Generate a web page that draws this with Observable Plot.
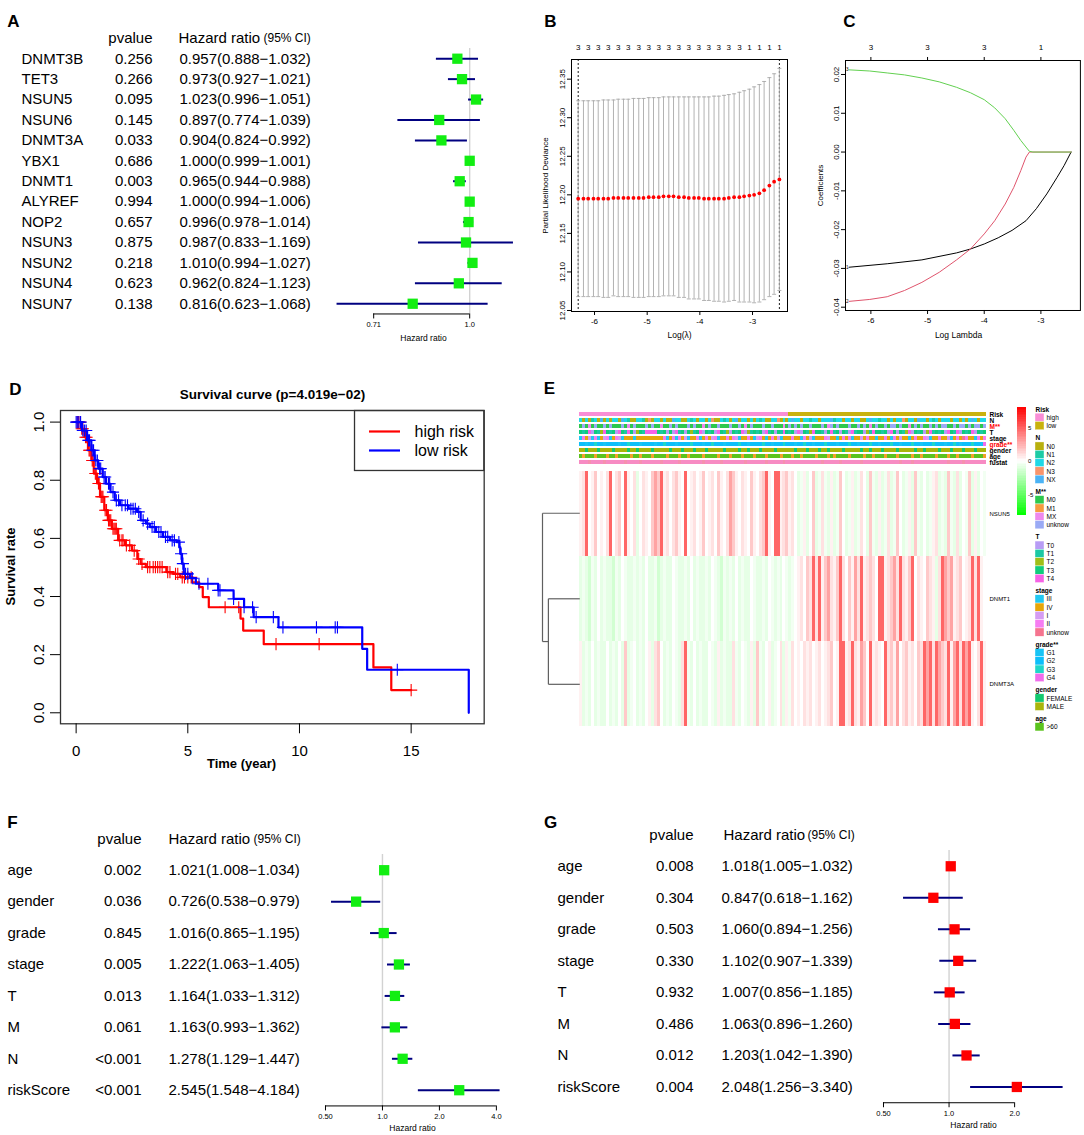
<!DOCTYPE html>
<html>
<head>
<meta charset="utf-8">
<script src="https://cdn.jsdelivr.net/npm/d3@7"></script>
<script src="https://cdn.jsdelivr.net/npm/@observablehq/plot@0.6"></script>
<style>
html,body{margin:0;padding:0;background:#fff;}
#root{position:relative;width:1084px;height:1135px;overflow:hidden;background:#fff;}
#root svg{position:absolute;overflow:visible;background:transparent;max-width:none;}
</style>
</head>
<body>
<div id="root"></div>
<script>
// ====================== DATA ======================
// Panel A – univariate Cox of regulators
const genesA = ["DNMT3B","TET3","NSUN5","NSUN6","DNMT3A","YBX1","DNMT1","ALYREF","NOP2","NSUN3","NSUN2","NSUN4","NSUN7"];
const pvalA  = ["0.256","0.266","0.095","0.145","0.033","0.686","0.003","0.994","0.657","0.875","0.218","0.623","0.138"];
const hrA = [0.957,0.973,1.023,0.897,0.904,1.000,0.965,1.000,0.996,0.987,1.010,0.962,0.816];
const loA = [0.888,0.927,0.996,0.774,0.824,0.999,0.944,0.994,0.978,0.833,0.994,0.824,0.623];
const hiA = [1.032,1.021,1.051,1.039,0.992,1.001,0.988,1.006,1.014,1.169,1.027,1.123,1.068];

// Panels F / G – clinical Cox
const varsFG = ["age","gender","grade","stage","T","M","N","riskScore"];
const pvalF = ["0.002","0.036","0.845","0.005","0.013","0.061","<0.001","<0.001"];
const hrF = [1.021,0.726,1.016,1.222,1.164,1.163,1.278,2.545];
const loF = [1.008,0.538,0.865,1.063,1.033,0.993,1.129,1.548];
const hiF = [1.034,0.979,1.195,1.405,1.312,1.362,1.447,4.184];
const pvalG = ["0.008","0.304","0.503","0.330","0.932","0.486","0.012","0.004"];
const hrG = [1.018,0.847,1.060,1.102,1.007,1.063,1.203,2.048];
const loG = [1.005,0.618,0.894,0.907,0.856,0.896,1.042,1.256];
const hiG = [1.032,1.162,1.256,1.339,1.185,1.260,1.390,3.340];

// Panel B – cross-validation curve
const logLambda = [-6.31,-6.21,-6.12,-6.02,-5.93,-5.83,-5.74,-5.64,-5.55,-5.45,
  -5.36,-5.26,-5.16,-5.07,-4.97,-4.88,-4.78,-4.69,-4.59,-4.50,
  -4.40,-4.30,-4.21,-4.11,-4.02,-3.92,-3.83,-3.73,-3.64,-3.54,
  -3.45,-3.35,-3.25,-3.16,-3.06,-2.97,-2.87,-2.78,-2.68,-2.59,-2.49];
const cvMean = [12.195,12.195,12.195,12.195,12.195,12.195,12.195,12.196,12.196,12.196,
  12.196,12.196,12.196,12.196,12.197,12.197,12.197,12.198,12.198,12.198,
  12.197,12.197,12.196,12.196,12.196,12.195,12.195,12.195,12.195,12.195,
  12.196,12.197,12.197,12.198,12.199,12.200,12.202,12.206,12.212,12.217,12.220];
const cvUpper = [12.322,12.322,12.322,12.322,12.322,12.323,12.323,12.323,12.324,12.324,
  12.324,12.325,12.325,12.325,12.326,12.326,12.326,12.327,12.327,12.327,
  12.327,12.327,12.327,12.327,12.327,12.327,12.327,12.328,12.328,12.329,
  12.330,12.331,12.333,12.335,12.337,12.340,12.343,12.347,12.352,12.357,12.364];
const cvLower = [12.068,12.068,12.068,12.068,12.068,12.067,12.067,12.069,12.068,12.068,
  12.068,12.067,12.067,12.067,12.068,12.068,12.068,12.069,12.069,12.069,
  12.067,12.067,12.065,12.065,12.065,12.063,12.063,12.062,12.062,12.061,
  12.062,12.063,12.061,12.061,12.061,12.060,12.061,12.064,12.068,12.071,12.076];
const nzero = [3,3,3,3,3,3,3,3,3,3, 3,3,3,3,3,3,3,3,3,3, 3,3,3,3,3,3,3,3,3,3, 3,3,3,3,1,1,1,1,1,1,1];
const lambdaLines = [-6.31, -2.49];
const bYTicks = [12.05,12.10,12.15,12.20,12.25,12.30,12.35];
const bXTicks = [-6,-5,-4,-3];

// Panel C – coefficient paths
const coefX1 = [-6.386,-5.712,-5.100,-4.488,-4.243,-3.999,-3.753,-3.509,-3.263,-3.080,-2.896,-2.713,-2.591,-2.467];
const coefY1 = [-0.0297,-0.0288,-0.0278,-0.0260,-0.0250,-0.0237,-0.0221,-0.0202,-0.0177,-0.0146,-0.0108,-0.0065,-0.0035,0];
const coefX2 = [-6.386,-6.019,-5.712,-5.407,-5.100,-4.794,-4.488,-4.243,-3.999,-3.815,-3.630,-3.478,-3.355,-3.263,-3.203,-2.467];
const coefY2 = [-0.0385,-0.0380,-0.0373,-0.0357,-0.0336,-0.0310,-0.0278,-0.0250,-0.0211,-0.0177,-0.0134,-0.0091,-0.0048,-0.0013,0,0];
const coefX3 = [-6.386,-6.019,-5.712,-5.407,-5.100,-4.794,-4.488,-4.243,-3.999,-3.815,-3.630,-3.478,-3.355,-3.263,-3.203,-3.141,-2.467];
const coefY3 = [0.0212,0.0209,0.0204,0.0199,0.0191,0.0181,0.0167,0.0153,0.0135,0.0114,0.0086,0.0056,0.0030,0.0013,0.0002,0,0];
const cXTicks = [-6,-5,-4,-3];
const cTopLabels = ["3","3","3","1"];
const cYTicks = [-0.04,-0.03,-0.02,-0.01,0.00,0.01,0.02];

// Panel D – Kaplan-Meier
const highTime = [0,0.22,0.37,0.53,0.68,0.79,0.94,1.07,1.26,1.42,1.60,1.88,2.19,2.50,2.74,2.89,3.12,4.04,4.35,4.66,5.20,5.51,5.67,5.94,7.36,7.48,8.40,13.31,14.11,15.0];
const highSurv = [1.0,0.977,0.948,0.903,0.868,0.823,0.789,0.743,0.697,0.662,0.633,0.593,0.576,0.558,0.529,0.512,0.501,0.484,0.478,0.466,0.449,0.432,0.398,0.363,0.324,0.283,0.236,0.156,0.078,0.078];
const highCensor = [0.05,0.1,0.18,0.25,0.3,0.42,0.47,0.58,0.62,0.72,0.76,0.86,0.9,1.0,1.03,1.12,1.16,1.2,1.3,1.36,1.45,1.5,1.55,1.65,1.7,1.75,1.8,1.95,2.05,2.1,2.25,2.4,2.6,2.8,2.95,3.2,3.3,3.45,3.55,3.65,3.75,3.85,4.1,4.2,4.45,4.55,4.75,4.85,5.0,5.15,6.67,7.28,8.95,10.88,15.0];
const lowTime = [0,0.26,0.49,0.68,0.83,0.99,1.19,1.34,1.54,1.73,1.96,2.35,2.73,2.89,3.12,3.30,3.58,3.89,4.20,4.51,4.63,4.66,4.74,4.82,5.10,5.36,6.36,7.05,7.52,7.95,9.06,12.81,13.03,17.58];
const lowSurv = [1.0,0.971,0.937,0.903,0.868,0.840,0.811,0.788,0.759,0.731,0.714,0.702,0.691,0.662,0.651,0.639,0.622,0.605,0.593,0.587,0.570,0.547,0.513,0.478,0.463,0.444,0.421,0.392,0.363,0.329,0.294,0.220,0.148,0.0];
const lowCensor = [0.0,0.05,0.12,0.2,0.3,0.38,0.45,0.55,0.6,0.72,0.78,0.88,0.95,1.05,1.1,1.25,1.3,1.45,1.5,1.65,1.8,1.9,2.05,2.2,2.3,2.45,2.55,2.65,2.8,3.0,3.2,3.4,3.5,3.7,3.8,4.0,4.1,4.3,4.4,4.6,4.7,4.78,4.9,5.0,5.2,5.5,5.9,6.36,6.44,7.05,7.52,7.9,8.06,8.83,9.26,10.76,11.6,11.7,14.38];
const riskGroups = ["high risk","low risk"];
const dXTicks = [0,5,10,15];
const dYTicks = [0,0.2,0.4,0.6,0.8,1.0];

// Panel E – heatmap (one character per column, patients ordered by risk score)
const annNames = ["Risk","N","M**","T","stage","grade**","gender","age","fustat"];
const riskRow = "hhhhhhhhhh"+"hhhhhhhhhh"+"hhhhhhhhhh"+"hhhhhhhhhh"+"hhhhhhhhhh"+"hhhhhhhhhh"+"hhhhhhhhhh"+
  "llllllllll"+"llllllllll"+"llllllllll"+"llllllllll"+"llllllllll"+"llllllllll"+"llllll";
const nRow = "2020120X02"+"0220X21002"+"2103022020"+"0X22002120"+"2202300212"+"02X0220202"+"1200223020"+
  "2X22022122"+"0222X12202"+"2022002X22"+"1220202230"+"220X220212"+"0222022020"+"2X2022";
const mRow = "0u0x0u00u0"+"u000u0x0u0"+"00u0u00x00"+"u0u000u0u0"+"0x0u00u000"+"u00u0x0u00"+"0u00u000x0"+
  "u0u0u00u00"+"0u0xu0u000"+"u00u0u0x0u"+"00u0uu0u00"+"x0u0u00u0u"+"0uu00u0uu0"+"u0uu0u";
const tRow = "3134031243"+"1304314302"+"3144443130"+"3041303213"+"4031304312"+"0313402131"+"3041303143"+
  "1304031243"+"3103413031"+"0413302143"+"3130430312"+"4031302413"+"1304314031"+"340313";
const stageRow = "cjoicjcoij"+"cojicoooco"+"oooooooojc"+"ojcjoicooj"+"cojoijcooj"+"ojicoojoci"+"jocojoicoo"+
  "ojoocjoico"+"oojioocojo"+"jcooiojooc"+"oojocjoioo"+"cojoojicoo"+"jooicojouj"+"oocjoj";
const gradeRow = "bbabbcbbab"+"bbbabbcbbb"+"abbbbabbcb"+"bbabbbbcbb"+"babbcbbbab"+"bbbcbbabbb"+"bcbbabbbcb"+
  "bbabbcbbab"+"bbcbbbabbb"+"cbbabbbcbb"+"abbbcbbabb"+"bcbbabbbcb"+"bbabbcbabb"+"bcbbad";
const genderRow = "mmfmmmfmmm"+"mfmmmmfmmf"+"mmmmfmmmmm"+"fmmmfmmmfm"+"mmfmmmmmfm"+"mmmfmmfmmm"+"fmmmmfmmmm"+
  "mmfmmmfmmm"+"fmmfmmmmfm"+"mmmmfmmfmm"+"mfmmmmfmmm"+"mmfmmfmmmm"+"fmmmfmmmfm"+"mmfmmm";
const ageRow = "yoyyyoyyyo"+"yyoyyyyoyy"+"oyyyoyyyyo"+"yyyoyyoyyy"+"yoyyyyoyyy"+"oyyyoyyyoy"+"yyoyyyyoyy"+
  "yoyyoyyyyo"+"yyyoyoyyyy"+"oyyyyoyyoy"+"yyoyyyoyyy"+"yoyyoyyyyo"+"yyyoyyoyyy"+"yoyyyo";
const fustatRow = "aaadaaaada"+"aaaaadaaaa"+"daaaaaadaa"+"aaadaaaaaa"+"adaaaaadaa"+"aaaaadaaaa"+"aadaaaaada"+
  "aaaaaaaaaa"+"adaaaaadaa"+"aaaadaaaaa"+"aaaaaaadaa"+"adaaaaaaaa"+"aaadaaaada"+"aaaaaa";
const exprGenes = ["NSUN5","DNMT1","DNMT3A"];
const nsun5Row = "+pR.+P.+.p"+"R.pP.R+.pg"+".p+.PrPR+p"+".pP+.R.+p."+"+P.+p.P+.p"+"rP+.p+.P+."+"pPR+.RR+pP"+
  "+p.g-+g.Pg"+"-p-g+g-P.g"+"-+g-p.gP-g"+"+g-pg-P.g-"+"+gP-g.g-+p"+"g-gP-gpg.-"+"Pg+g.-";
const dnmt1Row = "g-gG-g.g-g"+"gG-g.-gg-g"+"-g.gg-Gg-g"+"g.-gg-g.g-"+"gg-g.-gG-g"+"-g.g-gg.-g"+"g-g.-g-g.-"+
  "g-.+p.PpRp"+"R+Prp+PRp."+"P+rpR+pPp."+"RR+pPrpRp+"+"PR.p+.Pp+g"+"pRrPr+pP.+"+"pRpR+.";
const dnmt3aRow = "+g-g.g-gg."+"g-g.gPg-.g"+"-g.+gpP.g-"+"g.-gpR-g.g"+"-gg.-g+g-g"+"gp-g.-g+gP"+"-g.+g-.pg+"+
  "-p.+.p+p.+"+"p.+pP.+RR+"+"pRp+rP.R+p"+"+.RpP+r.pP"+"+p.PpRrRpR"+"rPpR+rRpRr"+"R+.pR+";
const exprLevels = {"G": -1.4, "g": -0.8, "-": -0.4, ".": 0, "+": 0.45, "p": 0.95, "P": 1.7, "r": 2.9, "R": 4.8};
// dendrogram: [childA, childB, height]  (rows 0..2, node "m1" = first merge)
const dendroMerges = [[1, 2, 0.842], [0, "m1", 1.0]];
const cbTicks = [-5, 0, 5];
const legendItems = {
  "Risk": [["high","h"],["low","l"]],
  "N": [["N0","0"],["N1","1"],["N2","2"],["N3","3"],["NX","X"]],
  "M**": [["M0","0"],["M1","1"],["MX","x"],["unknow","u"]],
  "T": [["T0","0"],["T1","1"],["T2","2"],["T3","3"],["T4","4"]],
  "stage": [["III","c"],["IV","o"],["I","i"],["II","j"],["unknow","u"]],
  "grade**": [["G1","a"],["G2","b"],["G3","c"],["G4","d"]],
  "gender": [["FEMALE","f"],["MALE","m"]],
  "age": [[">60","y"]]
};

// ====================== STYLE ======================
const FONT = '"Liberation Sans", Arial, Helvetica, sans-serif';
const annPalette = {
  "Risk": {h: "#F98ED6", l: "#C9B20E"},
  "N": {"0": "#B8B00E", "1": "#1CCBA5", "2": "#20D8E6", "3": "#F8946B", "X": "#4BB3F5"},
  "M**": {"0": "#2DC84D", "1": "#F59B3F", "x": "#EE88EE", "u": "#9AAAF5"},
  "T": {"0": "#B79CF5", "1": "#1CC8A5", "2": "#A0BE16", "3": "#10CC7C", "4": "#F662E6"},
  "stage": {c: "#22C8F2", o: "#E6A60B", i: "#D59CF3", j: "#F67CF2", u: "#F5748F"},
  "grade**": {a: "#17C4F5", b: "#0CBFFA", c: "#1ED7C8", d: "#F16CEB"},
  "gender": {f: "#12C96E", m: "#A9B50A"},
  "age": {y: "#5BC31E", o: "#F2A02A"},
  "fustat": {a: "#F78BC3", d: "#F590AE"}
};
const heatColor = {type: "linear", domain: [-8, 0, 8], range: ["#00ff00", "#ffffff", "#ff0000"], interpolate: "rgb"};

// ====================== HELPERS ======================
const root = document.getElementById("root");
const baseStyle = {background: "transparent", overflow: "visible", fontFamily: FONT, color: "black"};
function place(svg, left, top) {
  svg.style.position = "absolute";
  svg.style.left = left + "px";
  svg.style.top = top + "px";
  root.appendChild(svg);
}
function chart([x0, y0, x1, y1], options, pad = [30, 20, 40, 45]) {
  const [t, r, b, l] = pad;
  const svg = Plot.plot({
    width: x1 - x0 + l + r, height: y1 - y0 + t + b,
    marginTop: t, marginRight: r, marginBottom: b, marginLeft: l,
    style: baseStyle, ...options
  });
  place(svg, x0 - l, y0 - t);
  return svg;
}
function label(text, cx, cy, {size = 12, weight = "normal", rotate = 0, fill = "black", anchor = "middle"} = {}) {
  const svg = Plot.plot({
    width: 2, height: 2, margin: 0, style: baseStyle,
    marks: [Plot.text([text], {text: d => d, frameAnchor: "middle", fontSize: size, fontWeight: weight, rotate, fill, textAnchor: anchor, lineAnchor: "middle"})]
  });
  place(svg, cx - 1, cy - 1);
}
function textColumn(x, yTop, yBot, n, items, {anchor = "start", size = 15} = {}) {
  const svg = Plot.plot({
    width: 1, height: yBot - yTop + 80, marginTop: 40, marginBottom: 40, marginLeft: 0, marginRight: 0,
    style: baseStyle,
    y: {domain: [-0.5, n - 0.5], reverse: true, axis: null},
    marks: [Plot.text(items, {y: "i", text: "text", frameAnchor: "left", textAnchor: anchor, fontSize: size})]
  });
  place(svg, x, yTop - 40);
}

// ====================== FOREST PANELS (A, F, G) ======================
function forest(c) {
  const n = c.names.length;
  const yTop = c.yFirst - c.step / 2, yBot = c.yFirst + (n - 0.5) * c.step;
  const rows = c.names.map((name, i) => ({
    i, name, p: c.pv[i], hr: c.hr[i], lo: c.lo[i], hi: c.hi[i],
    txt: `${c.hr[i].toFixed(3)}(${c.lo[i].toFixed(3)}\u2212${c.hi[i].toFixed(3)})`
  }));
  chart([c.frameX[0], yTop, c.frameX[1], yBot], {
    x: {type: "log", domain: c.domain, axis: null},
    y: {domain: [-0.5, n - 0.5], reverse: true, axis: null},
    marks: [
      Plot.ruleX([1], {stroke: "#D2D2D2", strokeWidth: 1.4}),
      Plot.ruleY(rows, {y: "i", x1: "lo", x2: "hi", stroke: "#000080", strokeWidth: 2}),
      Plot.dot(rows, {x: "hr", y: "i", symbol: "square", r: 5.8, fill: c.fill, stroke: null}),
      Plot.ruleY([n - 0.5], {x1: c.ticks[0], x2: c.ticks[c.ticks.length - 1], stroke: "black", strokeWidth: 1}),
      Plot.axisX({ticks: c.ticks, tickFormat: d => c.tickLabels[c.ticks.indexOf(d)], tickSize: 5, tickPadding: 2.5, fontSize: 7.5, label: null})
    ]
  });
  label("Hazard ratio", c.axisTitle[0], c.axisTitle[1], {size: 8.5});
  textColumn(c.nameX, yTop, yBot, n, rows.map(d => ({i: d.i, text: d.name})));
  textColumn(c.pRight, yTop, yBot, n, [{i: -1, text: "pvalue"}, ...rows.map(d => ({i: d.i, text: d.p}))], {anchor: "end"});
  textColumn(c.hrX, yTop, yBot, n, rows.map(d => ({i: d.i, text: d.txt})));
  textColumn(c.hrHeadX, yTop, yBot, n, [{i: -1, text: "Hazard ratio"}]);
  textColumn(c.ciHeadX, yTop, yBot, n, [{i: -1, text: "(95% CI)"}], {size: 12});
}

forest({names: genesA, pv: pvalA, hr: hrA, lo: loA, hi: hiA, fill: "#12EE12",
  yFirst: 58.3, step: 20.42, frameX: [325.8, 520.1], domain: [0.6, 1.2],
  ticks: [0.71, 1.0], tickLabels: ["0.71", "1.0"], axisTitle: [423, 338],
  nameX: 20.7, pRight: 151.7, hrX: 179.3, hrHeadX: 177.6, ciHeadX: 262.8});
forest({names: varsFG, pv: pvalF, hr: hrF, lo: loF, hi: hiF, fill: "#12EE12",
  yFirst: 870, step: 31.43, frameX: [324.8, 499.7], domain: [0.5, 4.2],
  ticks: [0.5, 1, 2, 4], tickLabels: ["0.50", "1.0", "2.0", "4.0"], axisTitle: [412.3, 1128],
  nameX: 6.9, pRight: 141.4, hrX: 168.3, hrHeadX: 168.3, ciHeadX: 253.4});
forest({names: varsFG, pv: pvalG, hr: hrG, lo: loG, hi: hiG, fill: "#FF0000",
  yFirst: 866, step: 31.53, frameX: [882.5, 1063.8], domain: [0.5, 3.4],
  ticks: [0.5, 1, 2], tickLabels: ["0.50", "1.0", "2.0"], axisTitle: [973, 1125],
  nameX: 557.3, pRight: 692.7, hrX: 721.1, hrHeadX: 722.9, ciHeadX: 806.5});

// ====================== PANEL B ======================
const cvRows = logLambda.map((x, i) => ({x, m: cvMean[i], up: cvUpper[i], lo: cvLower[i], nz: String(nzero[i])}));
const capSymbol = {draw(ctx, size) { const r = Math.sqrt(size / Math.PI); ctx.moveTo(-r, 0); ctx.lineTo(r, 0); }};
chart([571, 59, 787, 311], {
  x: {domain: [-6.437, -2.336], axis: null},
  y: {domain: [12.0487, 12.3755], axis: null},
  marks: [
    Plot.ruleX(lambdaLines, {stroke: "black", strokeDasharray: "2,2", strokeWidth: 0.9}),
    Plot.ruleX(cvRows, {x: "x", y1: "lo", y2: "up", stroke: "#A9A9A9", strokeWidth: 0.9}),
    Plot.dot(cvRows, {x: "x", y: "up", symbol: capSymbol, r: 2, fill: "none", stroke: "#A9A9A9", strokeWidth: 0.9}),
    Plot.dot(cvRows, {x: "x", y: "lo", symbol: capSymbol, r: 2, fill: "none", stroke: "#A9A9A9", strokeWidth: 0.9}),
    Plot.dot(cvRows, {x: "x", y: "m", r: 1.9, fill: "red", stroke: null}),
    Plot.frame({stroke: "black"}),
    Plot.axisY({ticks: bYTicks, tickFormat: ".2f", tickRotate: -90, tickSize: 4, tickPadding: 3, fontSize: 8, fill: "black", label: null}),
    Plot.axisX({ticks: bXTicks, tickFormat: d => String(d), tickSize: 4, tickPadding: 3, fontSize: 8, fill: "black", label: null}),
    Plot.text(cvRows.filter((d, i) => i % 2 === 0), {x: "x", text: "nz", frameAnchor: "top", dy: -15, fontSize: 8})
  ]
});
label("Partial Likelihood Deviance", 545.2, 185, {size: 8, rotate: -90});
label("Log(\u03BB)", 679, 335, {size: 8.5});

// ====================== PANEL C ======================
const coefSeries = [
  {xs: coefX1, ys: coefY1, color: "#000000", id: "1"},
  {xs: coefX2, ys: coefY2, color: "#DF536B", id: "2"},
  {xs: coefX3, ys: coefY3, color: "#61D04F", id: "3"}
];
chart([845.3, 60, 1080.2, 310], {
  x: {domain: [-6.448, -2.303], axis: null},
  y: {domain: [-0.04085, 0.02361], axis: null},
  marks: [
    ...coefSeries.map(s => Plot.line(s.xs.map((x, i) => ({x, y: s.ys[i]})), {x: "x", y: "y", stroke: s.color, strokeWidth: 1})),
    Plot.text(coefSeries, {x: d => d.xs[0], y: d => d.ys[0], text: "id", textAnchor: "end", dx: -0.5, fontSize: 4.5}),
    Plot.frame({stroke: "black"}),
    Plot.axisY({ticks: cYTicks, tickFormat: d => d.toFixed(2), tickRotate: -90, tickSize: 4, tickPadding: 3, fontSize: 8, fill: "black", label: null}),
    Plot.axisX({ticks: cXTicks, tickFormat: d => String(d), tickSize: 4, tickPadding: 3, fontSize: 8, fill: "black", label: null}),
    Plot.axisX({anchor: "top", ticks: cXTicks, tickFormat: d => cTopLabels[cXTicks.indexOf(d)], tickSize: 4, tickPadding: 6, fontSize: 8, fill: "black", label: null})
  ]
}, [30, 3, 40, 45]);
label("Coefficients", 820.4, 185, {size: 8, rotate: -90});
label("Log Lambda", 958, 335, {size: 8.5});

// ====================== PANEL D ======================
function survAt(times, surv, t) { let s = surv[0]; for (let i = 0; i < times.length; i++) if (times[i] <= t) s = surv[i]; return s; }
const kmHigh = highTime.map((t, i) => ({t, s: highSurv[i]}));
const kmLow = lowTime.map((t, i) => ({t, s: lowSurv[i]}));
const cenHigh = highCensor.map(t => ({t, s: survAt(highTime, highSurv, t)}));
const cenLow = lowCensor.map(t => ({t, s: survAt(lowTime, lowSurv, t)}));
chart([59.7, 410, 483.4, 723.3], {
  x: {domain: [-0.70, 18.27], axis: null},
  y: {domain: [-0.0378, 1.0399], axis: null},
  marks: [
    Plot.line(kmHigh, {x: "t", y: "s", curve: "step-after", stroke: "#FF0000", strokeWidth: 2.2}),
    Plot.dot(cenHigh, {x: "t", y: "s", symbol: "plus", r: 4, stroke: "#FF0000", strokeWidth: 1.1}),
    Plot.line(kmLow, {x: "t", y: "s", curve: "step-after", stroke: "#0000FF", strokeWidth: 2.2}),
    Plot.dot(cenLow, {x: "t", y: "s", symbol: "plus", r: 4, stroke: "#0000FF", strokeWidth: 1.1}),
    Plot.frame({stroke: "#333", strokeWidth: 1.3}),
    Plot.axisY({ticks: dYTicks, tickFormat: d => d.toFixed(1), tickRotate: -90, tickSize: 10, tickPadding: 7, fontSize: 15, label: null}),
    Plot.axisX({ticks: dXTicks, tickFormat: d => String(d), tickSize: 10, tickPadding: 12, fontSize: 15, label: null})
  ]
}, [30, 20, 50, 60]);
// legend box
{
  const svg = Plot.plot({
    width: 129.4, height: 60, margin: 0, style: baseStyle,
    x: {domain: [0, 1], range: [15, 46], axis: null},
    y: {type: "point", domain: riskGroups, range: [20.7, 40], padding: 0, axis: null},
    color: {type: "identity"},
    marks: [
      Plot.frame({stroke: "#333", strokeWidth: 1.3}),
      Plot.ruleY(riskGroups, {y: d => d, x1: 0, x2: 1, stroke: d => d === "high risk" ? "#FF0000" : "#0000FF", strokeWidth: 2.2}),
      Plot.text(riskGroups, {y: d => d, x: 1, text: d => d, dx: 14, textAnchor: "start", fontSize: 16})
    ]
  });
  place(svg, 354, 410);
}
label("Survival curve (p=4.019e\u221202)", 271.5, 394, {size: 13.5, weight: "bold"});
label("Time (year)", 241, 763, {size: 13, weight: "bold"});
label("Survival rate", 9.5, 566, {size: 13, weight: "bold", rotate: -90});

// ====================== PANEL E ======================
const annCodes = [riskRow, nRow, mRow, tRow, stageRow, gradeRow, genderRow, ageRow, fustatRow];
const annCells = [];
annNames.forEach((name, r) => {
  const s = annCodes[r];
  for (let i = 0; i < s.length; i++) annCells.push({row: name, x1: i / s.length, x2: (i + 1) / s.length, color: annPalette[name][s[i]]});
});
chart([579, 408, 986, 468], {
  x: {domain: [0, 1], axis: null},
  y: {type: "band", domain: annNames, paddingInner: 0.28, paddingOuter: 0, axis: null},
  color: {type: "identity"},
  marks: [
    Plot.barX(annCells, {x1: "x1", x2: "x2", y: "row", fill: "color", shapeRendering: "crispEdges"}),
    Plot.text(annNames, {x: 1, y: d => d, text: d => d, dx: 3, textAnchor: "start", fontSize: 6.5, fontWeight: "bold",
      fill: d => (d === "M**" || d === "grade**") ? "#FF0000" : "#000000"})
  ]
});
const exprCodes = [nsun5Row, dnmt1Row, dnmt3aRow];
const exprCells = [];
exprGenes.forEach((g, r) => {
  const s = exprCodes[r];
  for (let i = 0; i < s.length; i++) exprCells.push({gene: g, x1: i / s.length, x2: (i + 1) / s.length, v: exprLevels[s[i]]});
});
chart([579, 469.7, 986, 726.3], {
  x: {domain: [0, 1], axis: null},
  y: {type: "band", domain: exprGenes, padding: 0, axis: null},
  color: heatColor,
  marks: [
    Plot.barX(exprCells, {x1: "x1", x2: "x2", y: "gene", fill: "v", shapeRendering: "crispEdges"}),
    Plot.text(exprGenes, {x: 1, y: d => d, text: d => d, dx: 3, textAnchor: "start", fontSize: 6})
  ]
});
// dendrogram
{
  const nodes = {};
  const segs = [];
  const pos = c => typeof c === "number" ? {y: c, h: 0} : nodes[c];
  dendroMerges.forEach(([a, b, h], k) => {
    const A = pos(a), B = pos(b);
    segs.push({x1: A.h, y1: A.y, x2: h, y2: A.y}, {x1: B.h, y1: B.y, x2: h, y2: B.y}, {x1: h, y1: A.y, x2: h, y2: B.y});
    nodes["m" + (k + 1)] = {y: (A.y + B.y) / 2, h};
  });
  chart([541.7, 469.7, 579, 726.3], {
    x: {domain: [1, 0], axis: null},
    y: {domain: [-0.5, exprGenes.length - 0.5], reverse: true, axis: null},
    marks: [Plot.link(segs, {x1: "x1", y1: "y1", x2: "x2", y2: "y2", stroke: "#606060", strokeWidth: 1.2})]
  });
}
// colour bar
chart([1017, 407, 1026, 515], {
  x: {domain: [0, 1], axis: null},
  y: {domain: [-8, 8], axis: null},
  color: heatColor,
  marks: [
    Plot.rect(d3.range(-8, 8, 0.25), {x1: 0, x2: 1, y1: d => d, y2: d => d + 0.25, fill: d => d + 0.125, shapeRendering: "crispEdges"}),
    Plot.text(cbTicks, {x: 1, y: d => d, text: d => String(d), dx: 1.5, textAnchor: "start", fontSize: 6})
  ]
});
// annotation legend
{
  const titles = [], items = [];
  let slot = 0;
  Object.entries(legendItems).forEach(([title, list], gi) => {
    if (gi > 0) slot += 1.47;
    titles.push({name: title, slot});
    list.forEach(([name, code]) => { slot += 1; items.push({name, slot, color: annPalette[title][code]}); });
  });
  chart([1035, 409.3, 1044, 727.1], {
    x: {domain: [0, 1], axis: null},
    y: {domain: [0, slot], reverse: true, axis: null},
    color: {type: "identity"},
    marks: [
      Plot.rect(items, {x1: 0, x2: 1, y1: d => d.slot - 0.5, y2: d => d.slot + 0.5, fill: "color", stroke: "white", strokeWidth: 0.4}),
      Plot.text(items, {x: 1, y: "slot", text: "name", dx: 2, textAnchor: "start", fontSize: 6.5}),
      Plot.text(titles, {x: 0, y: "slot", text: "name", textAnchor: "start", fontSize: 6.5, fontWeight: "bold"})
    ]
  }, [20, 40, 20, 10]);
}

// ====================== PANEL LETTERS ======================
[["A", 13, 21], ["B", 549.5, 21], ["C", 849.4, 21], ["D", 14.6, 388.5], ["E", 549, 388.3], ["F", 12.4, 821.5], ["G", 550, 822]]
  .forEach(([t, x, y]) => label(t, x, y, {size: 17, weight: "bold"}));
</script>
</body>
</html>
